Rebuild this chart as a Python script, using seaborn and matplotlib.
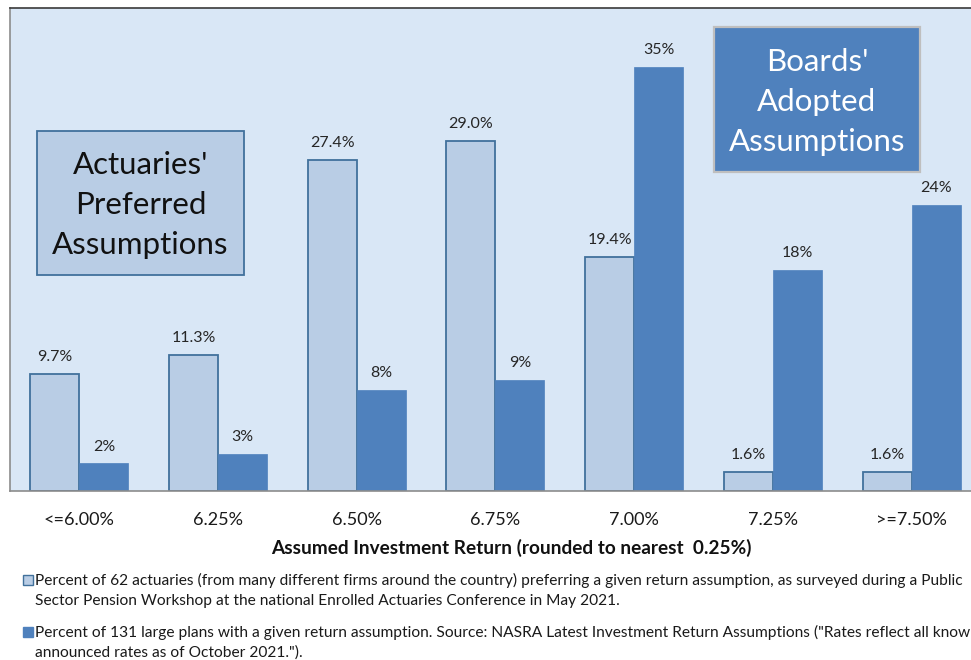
import matplotlib
matplotlib.use("Agg")
import matplotlib.pyplot as plt
from matplotlib.patches import Rectangle
import seaborn as sns
import pandas as pd

categories = ["<=6.00%", "6.25%", "6.50%", "6.75%", "7.00%", "7.25%", ">=7.50%"]
actuaries_pct = [9.7, 11.3, 27.4, 29.0, 19.4, 1.6, 1.6]
plans_pct = [2.3, 3.1, 8.4, 9.2, 35.1, 18.3, 23.7]
series_names = ["Actuaries", "Plans"]

x_title = "Assumed Investment Return (rounded to nearest  0.25%)"
legend_1 = ["Percent of 62 actuaries (from many different firms around the country) preferring a given return assumption, as surveyed during a Public",
            "Sector Pension Workshop at the national Enrolled Actuaries Conference in May 2021."]
legend_2 = ["Percent of 131 large plans with a given return assumption. Source: NASRA Latest Investment Return Assumptions (\"Rates reflect all know",
            "announced rates as of October 2021.\")."]
box_1 = ["Actuaries'", "Preferred", "Assumptions"]
box_2 = ["Boards'", "Adopted", "Assumptions"]

LIGHT = "#b9cde5"
LIGHT_EDGE = "#41719c"
DARK = "#4f81bd"

df = pd.DataFrame({
    "cat": categories * 2,
    "val": actuaries_pct + plans_pct,
    "series": [series_names[0]] * len(categories) + [series_names[1]] * len(categories),
})

sns.set_theme(style="white")
plt.rcParams["font.family"] = ["Lato", "DejaVu Sans"]

W, H = 971, 660
fig = plt.figure(figsize=(W / 100, H / 100), dpi=100)
ax = fig.add_axes([10 / W, (H - 491) / H, (W - 10) / W, (491 - 8) / H])
ax.set_facecolor("#d9e7f6")

sns.barplot(data=df, x="cat", y="val", hue="series", order=categories,
            hue_order=series_names, palette=[LIGHT, DARK], width=0.706,
            gap=0, dodge=True, legend=False, ax=ax, saturation=1)

for p in ax.containers[0]:
    p.set_edgecolor(LIGHT_EDGE)
    p.set_linewidth(1.3)
for p in ax.containers[1]:
    p.set_edgecolor(DARK)
    p.set_linewidth(0.5)

ax.bar_label(ax.containers[0], labels=[f"{v:.1f}%" for v in actuaries_pct],
             padding=7, fontsize=11.5, color="#262626")
ax.bar_label(ax.containers[1], labels=[f"{v:.0f}%" for v in plans_pct],
             padding=7, fontsize=11.5, color="#262626")

ax.set_yticks([])
ax.set_xlabel("")
ax.set_ylabel("")
ax.set_xticks(range(len(categories)))
ax.set_xticklabels(categories, fontsize=13, color="#1a1a1a")
ax.tick_params(axis="x", which="major", length=0, pad=15)
ax.set_xticks([i - 0.5 for i in range(len(categories) + 1)], minor=True)
ax.tick_params(axis="x", which="minor", length=6, width=1, color="#888888", direction="out")
ax.set_ylim(0, 40)
ax.set_xlim(-0.5, -0.5 + (W - 10) / 138.7)

for s in ["left", "bottom"]:
    ax.spines[s].set_visible(True)
    ax.spines[s].set_color("#8c8c8c")
    ax.spines[s].set_linewidth(1.2)
ax.spines["top"].set_visible(True)
ax.spines["top"].set_color("#3a3a3a")
ax.spines["top"].set_linewidth(1.2)
ax.spines["right"].set_visible(False)


def px_rect(x0, y0, x1, y1, **kw):
    fig.add_artist(Rectangle((x0 / W, 1 - y1 / H), (x1 - x0) / W, (y1 - y0) / H,
                             transform=fig.transFigure, **kw))


# annotation boxes
px_rect(37, 131, 244, 275, facecolor=LIGHT, edgecolor=LIGHT_EDGE, linewidth=1.3)
for i, line in enumerate(box_1):
    fig.text(140.5 / W, 1 - (165 + 40 * i) / H, line, ha="center", va="center",
             fontsize=22.5, color="#111111")
px_rect(714, 27, 920, 172, facecolor=DARK, edgecolor="#bfbfbf", linewidth=1.6)
for i, line in enumerate(box_2):
    fig.text(817 / W, 1 - (62 + 40 * i) / H, line, ha="center", va="center",
             fontsize=22.5, color="white")

# axis title
fig.text(511 / W, 1 - 548 / H, x_title, ha="center", va="center", fontsize=13.7,
         fontweight="bold", color="#111111")

# legend
px_rect(23, 575, 33, 585, facecolor=LIGHT, edgecolor=LIGHT_EDGE, linewidth=1)
px_rect(23, 627, 33, 637, facecolor=DARK, edgecolor=DARK, linewidth=1)
for i, line in enumerate(legend_1):
    fig.text(35 / W, 1 - (580 + 21 * i) / H, line, ha="left", va="center", fontsize=11.2, color="#1a1a1a")
for i, line in enumerate(legend_2):
    fig.text(35 / W, 1 - (632 + 21 * i) / H, line, ha="left", va="center", fontsize=11.2, color="#1a1a1a")

fig.savefig("out.png", dpi=100, facecolor="white")
